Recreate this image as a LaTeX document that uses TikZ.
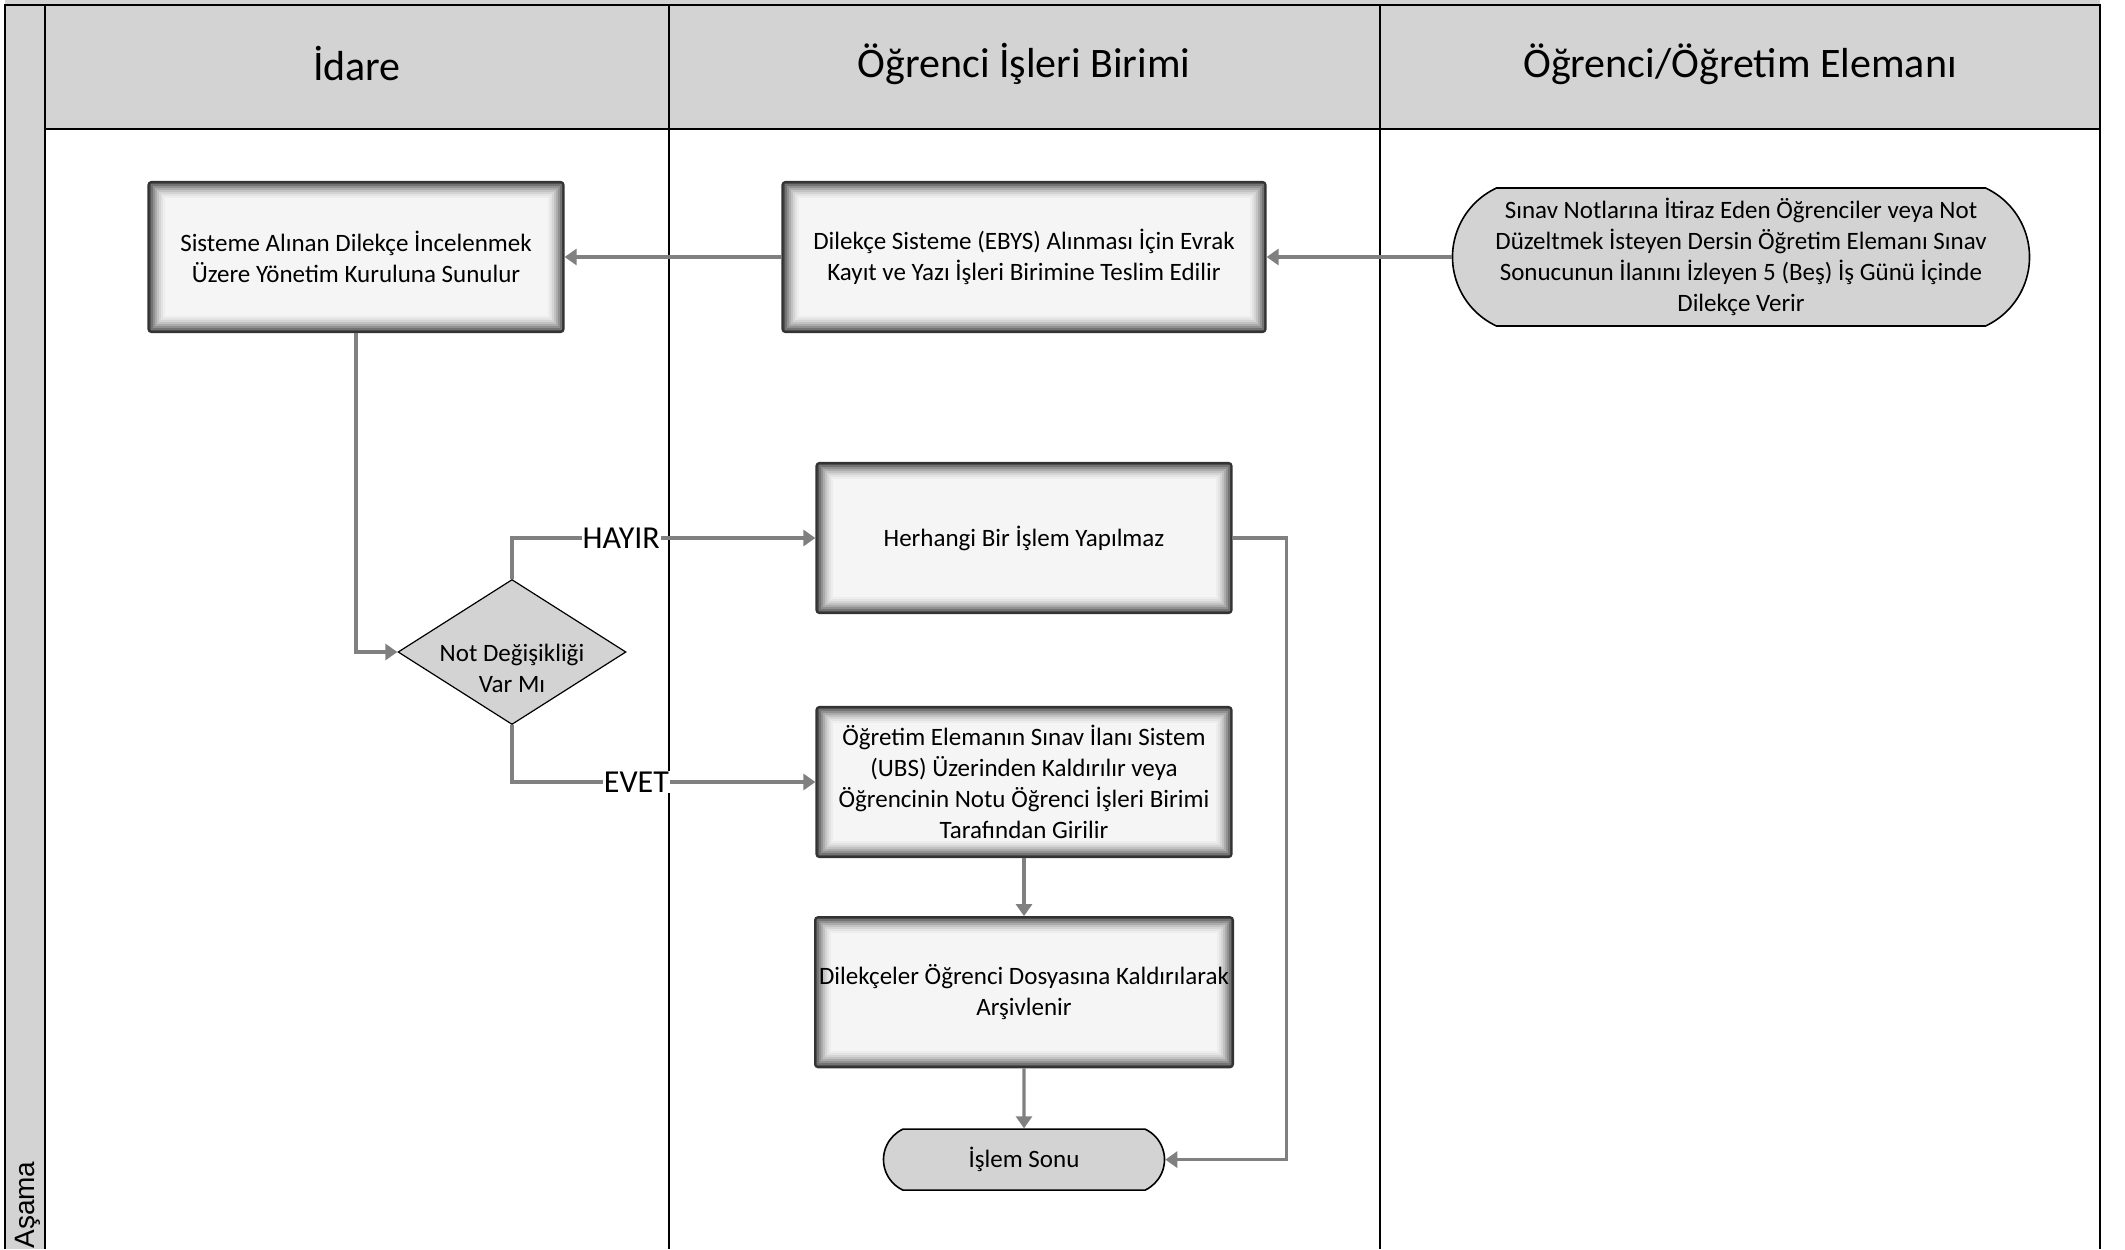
\documentclass[tikz,border=0pt]{standalone}
\usepackage{fontspec}
\setmainfont{Carlito}
\newfontfamily\stagefont{Liberation Sans}
\usepackage{xcolor}
\usepackage{tikz}
\usetikzlibrary{positioning,shapes.geometric,shapes.misc,arrows.meta}
\definecolor{lanegray}{HTML}{D3D3D3}
\definecolor{flowgray}{HTML}{808080}

\begin{document}
\begin{tikzpicture}[x=0.5pt,y=-0.5pt,
>={Triangle[length=6pt,width=8pt]},
frame/.style={draw=black,line width=1pt},
lane head/.style={font=\fontsize{21}{25}\selectfont},
process/.style={rectangle,draw=black!80,line width=1.1pt,fill=black!4,
rounded corners=1.5pt,minimum width=207.5pt,minimum height=75pt,
inner sep=2pt,align=center,font=\fontsize{12.5}{15.5}\selectfont,
path picture={\foreach \i/\c in {1/68,2/55,3/43,4/33,5/24,6/17,7/11,8/7,9/4}
\draw[black!\c,line width=1.2pt,sharp corners]
([shift={(\i*1pt-0.4pt,-\i*1pt+0.4pt)}]path picture bounding box.north west) rectangle
([shift={(-\i*1pt+0.4pt,\i*1pt-0.4pt)}]path picture bounding box.south east);}},
terminal/.style={rounded rectangle,rounded rectangle arc length=130,draw=black,
line width=0.8pt,fill=lanegray,align=center,inner sep=3pt,
font=\fontsize{12.5}{15.5}\selectfont},
decision/.style={diamond,aspect=1.6,draw=black,line width=0.6pt,fill=lanegray,
inner sep=0pt,minimum width=114pt,minimum height=72.5pt},
question/.style={align=center,inner sep=0pt,font=\fontsize{12.5}{15.5}\selectfont},
flow/.style={->,draw=flowgray,line width=1.6pt},
answer/.style={fill=white,inner sep=0.5pt,text=black,font=\fontsize{16}{18}\selectfont}]
    \useasboundingbox (0,0) rectangle (2125,1249);
    % swimlane frame
    \fill[lanegray] (5,0) rectangle (45,1249);
    \fill[lanegray] (45,0) rectangle (2100,129);
    \draw[frame] (5,1249) -- (5,5) -- (2100,5) -- (2100,1249);
    \draw[frame] (45,5) -- (45,1249);
    \draw[frame] (45,129) -- (2100,129);
    \draw[frame] (669,5) -- (669,1249);
    \draw[frame] (1380,5) -- (1380,1249);
    \node[rotate=90,anchor=base west,inner sep=0pt,
      font=\stagefont\fontsize{14}{16}\selectfont] (Asama) at (34,1249) {Aşama};
    \node[lane head] (Idare) at (357,64) {İdare};
    \node[lane head] (Birim) at (1024,64) {Öğrenci İşleri Birimi};
    \node[lane head] (Eleman) at (1740,64) {Öğrenci/Öğretim Elemanı};
    % steps
    \node[terminal,minimum width=294.5pt,minimum height=69pt] (Dilekce) at (1741,257)
      {Sınav Notlarına İtiraz Eden Öğrenciler veya Not\\Düzeltmek İsteyen Dersin Öğretim Elemanı Sınav\\Sonucunun İlanını İzleyen 5 (Beş) İş Günü İçinde\\Dilekçe Verir};
    \node[process,minimum width=241.5pt] (Teslim) at (1024,257)
      {Dilekçe Sisteme (EBYS) Alınması İçin Evrak\\Kayıt ve Yazı İşleri Birimine Teslim Edilir};
    \node[process] (Sunulur) at (356,257)
      {Sisteme Alınan Dilekçe İncelenmek\\Üzere Yönetim Kuruluna Sunulur};
    \node[decision,label={[question,yshift=-8pt]center:Not Değişikliği\\Var Mı}]
      (Degisiklik) at (512,652) {};
    \node[process] (Yapilmaz) at (1024,538) {Herhangi Bir İşlem Yapılmaz};
    \node[process] (Girilir) at (1024,782)
      {Öğretim Elemanın Sınav İlanı Sistem\\(UBS) Üzerinden Kaldırılır veya\\Öğrencinin Notu Öğrenci İşleri Birimi\\Tarafından Girilir};
    \node[process] (Arsiv) [below=29pt of Girilir]
      {Dilekçeler Öğrenci Dosyasına Kaldırılarak\\Arşivlenir};
    \node[terminal,minimum width=146.5pt,minimum height=30.5pt] (Sonu) [below=30pt of Arsiv] {İşlem Sonu};
    % connectors
    \draw[flow] (Dilekce) -- (Teslim);
    \draw[flow] (Teslim) -- (Sunulur);
    \draw[flow] (Sunulur) |- (Degisiklik);
    \draw[flow] (Degisiklik.north) |- node[answer,pos=0.68] {HAYIR} (Yapilmaz);
    \draw[flow] (Degisiklik.south) |- node[answer,pos=0.705] {EVET} (Girilir);
    \draw[flow] (Girilir) -- (Arsiv);
    \draw[flow] (Arsiv) -- (Sonu);
    \draw[flow] (Yapilmaz.east) -- ++(54,0) |- (Sonu.east);
\end{tikzpicture}
\end{document}
